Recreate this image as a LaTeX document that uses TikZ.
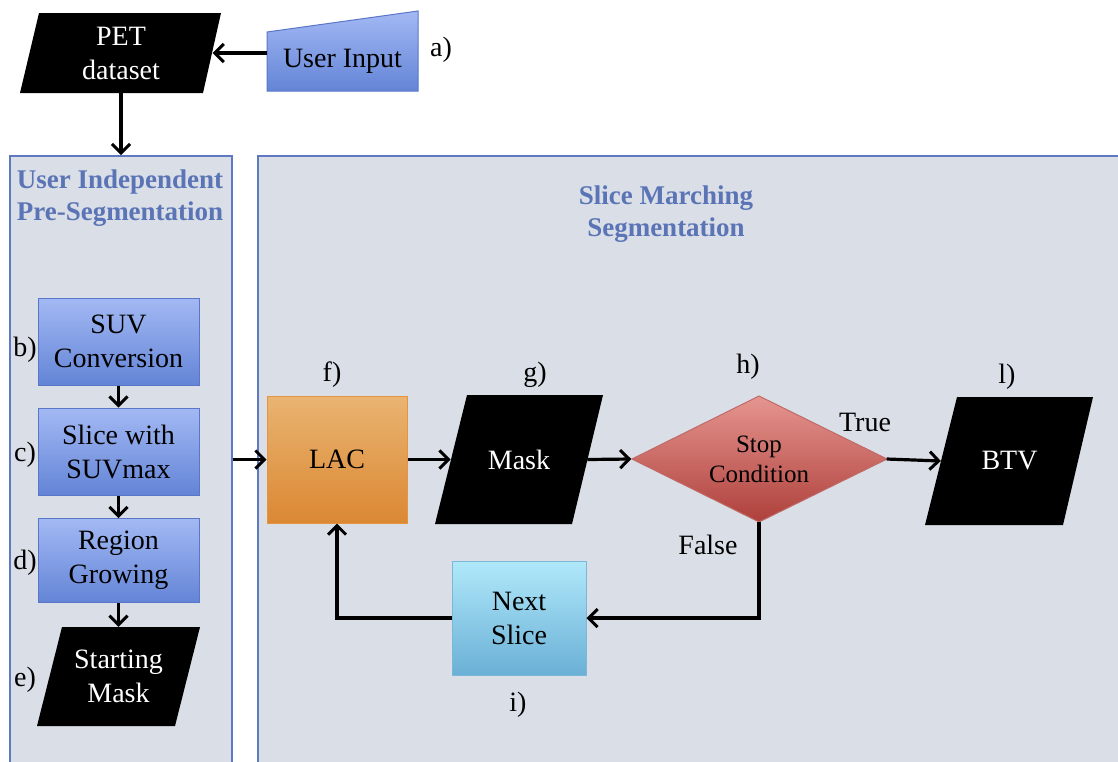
\documentclass[tikz,border=0pt]{standalone}
\usepackage{fontspec}
\setmainfont{Liberation Serif}
\usetikzlibrary{arrows.meta}
\definecolor{panelfill}{HTML}{D9DEE7}
\definecolor{panelline}{HTML}{5F78C2}
\definecolor{titleblue}{HTML}{5A74B5}
\definecolor{bluetop}{HTML}{A3B9F4}
\definecolor{bluebot}{HTML}{6384D6}
\definecolor{blueline}{HTML}{5A76C8}
\definecolor{orangetop}{HTML}{E9B471}
\definecolor{orangebot}{HTML}{DB8833}
\definecolor{orangeline}{HTML}{E6943F}
\definecolor{redtop}{HTML}{E69590}
\definecolor{redbot}{HTML}{AE403B}
\definecolor{redline}{HTML}{C06A66}
\definecolor{cyantop}{HTML}{B0E8FA}
\definecolor{cyanbot}{HTML}{6AB0D6}
\definecolor{cyanline}{HTML}{7BB8D8}
\tikzset{
  txt/.style={font=\fontsize{28}{34}\selectfont, align=center, inner sep=0pt},
  smalltxt/.style={font=\fontsize{25}{30}\selectfont, align=center, inner sep=0pt},
  ttl/.style={font=\fontsize{27}{32}\selectfont\bfseries, text=titleblue, align=center, inner sep=0pt},
  panel/.style={draw=panelline, fill=panelfill, line width=1.5pt, inner sep=0pt},
  bluebox/.style={txt, draw=blueline, line width=1pt, top color=bluetop, bottom color=bluebot},
  arr/.style={line width=3.2pt, -{Straight Barb[length=9pt,width=18pt,line width=3pt]}},
  lbl/.style={font=\fontsize{28}{34}\selectfont, inner sep=0pt},
}
\begin{document}
\begin{tikzpicture}[x=1pt,y=-1pt]
\useasboundingbox (0,0) rectangle (1118,761);
\clip (0,0) rectangle (1118,761);
\fill[white] (0,0) rectangle (1118,761);

% panels
\node[panel, minimum width=222, minimum height=615, anchor=north west] (lp) at (9,155) {};
\node[panel, minimum width=880, minimum height=615, anchor=north west] (rp) at (257,155) {};
\node[ttl] (lpt) at (120,198) {User Independent\\Pre-Segmentation};
\node[ttl] (rpt) at (666,214) {Slice Marching\\Segmentation};

% PET dataset
\fill[black] (39,13) -- (221,13) -- (203,93) -- (20,93) -- cycle;
\node[txt, text=white, minimum width=183, minimum height=80] (pet) at (121,53) {PET\\dataset};

% User Input
\shade[top color=bluetop, bottom color=bluebot, draw=blueline, line width=1pt]
  (267,32) -- (418,11) -- (418,91) -- (267,91) -- cycle;
\node[txt, minimum width=151, minimum height=40] (ui) at (342.5,61) {User Input};
\node[lbl] (la) at (441,50) {a)};

% left column
\node[bluebox, minimum width=161, minimum height=87] (suv) at (118.5,341.5) {SUV\\Conversion};
\node[bluebox, minimum width=161, minimum height=87] (smax) at (118.5,451.5) {Slice with\\SUVmax};
\node[bluebox, minimum width=161, minimum height=84] (rg) at (118.5,560.5) {Region\\Growing};
\fill[black] (62,627) -- (200,627) -- (175,726) -- (37,726) -- cycle;
\node[txt, text=white, minimum width=138, minimum height=99] (sm) at (118.5,676.5) {Starting\\Mask};
\node[lbl] (lb) at (25,350) {b)};
\node[lbl] (lc) at (25,455) {c)};
\node[lbl] (ld) at (25,563) {d)};
\node[lbl] (le) at (25,680) {e)};

% LAC
\node[txt, draw=orangeline, line width=1pt, top color=orangetop, bottom color=orangebot,
      minimum width=140, minimum height=127] (lac) at (337,459.5) {LAC};
\node[lbl] (lf) at (332,375) {f)};

% Mask
\fill[black] (467,395) -- (603,395) -- (572,524) -- (435,524) -- cycle;
\node[txt, text=white, minimum width=136.5, minimum height=129] (mask) at (519,459.5) {Mask};
\node[lbl] (lg) at (535,375) {g)};

% diamond
\shade[top color=redtop, bottom color=redbot, draw=redline, line width=1pt]
  (632,459) -- (759,396) -- (887,459) -- (759,522) -- cycle;
\node[smalltxt, minimum width=255, minimum height=126] (dia) at (759,459) {Stop\\Condition};
\node[lbl] (lh) at (748,367) {h)};
\node[lbl] (ltrue) at (865,422) {True};
\node[lbl] (lfalse) at (708,545) {False};

% BTV
\fill[black] (957,397) -- (1093,397) -- (1063,525) -- (925,525) -- cycle;
\node[txt, text=white, minimum width=137, minimum height=128] (btv) at (1009.5,461) {BTV};
\node[lbl] (ll) at (1007,377) {l)};

% Next slice
\node[txt, draw=cyanline, line width=1pt, top color=cyantop, bottom color=cyanbot,
      minimum width=134, minimum height=114] (next) at (519,618) {Next\\Slice};
\node[lbl] (li) at (518,705) {i)};

% connectors
\draw[arr] (ui.west |- pet.east) -- (pet.east);
\draw[arr] (pet.south) -- (pet.south |- lp.north);
\draw[arr] (suv.south) -- (smax.north);
\draw[arr] (smax.south) -- (rg.north);
\draw[arr] (rg.south) -- (sm.north);
\draw[arr] (lp.east |- lac.west) -- (lac.west);
\draw[arr] (lac.east) -- (mask.west);
\draw[arr] (mask.east) -- (dia.west);
\draw[arr] (dia.east) -- (btv.west);
\draw[arr] (dia.south) |- (next.east);
\draw[arr] (next.west) -| (lac.south);
\end{tikzpicture}
\end{document}
